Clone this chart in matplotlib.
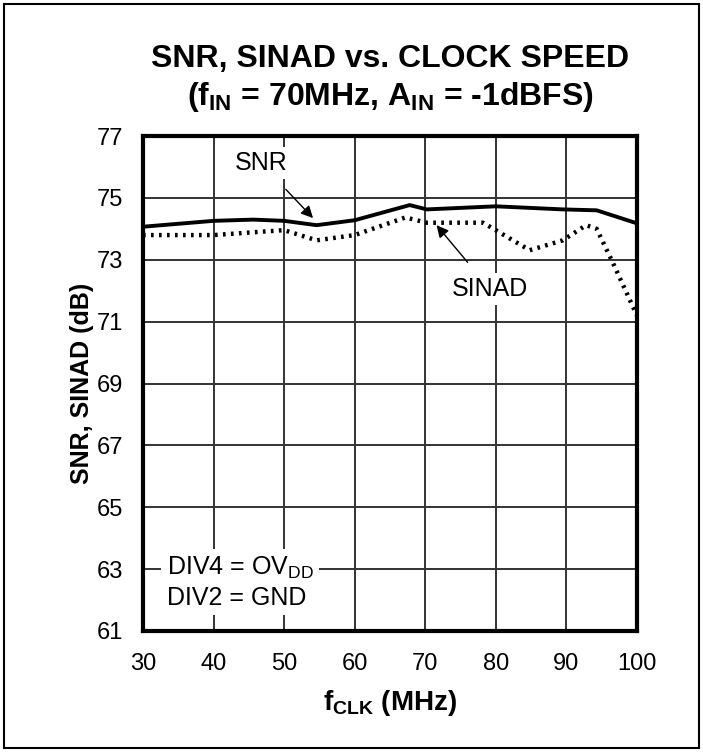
import matplotlib.pyplot as plt
from matplotlib.patches import Rectangle

plt.rcParams['font.family'] = ['Liberation Sans', 'DejaVu Sans']
plt.rcParams['mathtext.fontset'] = 'custom'
plt.rcParams['mathtext.rm'] = 'Liberation Sans'
plt.rcParams['mathtext.bf'] = 'Liberation Sans:bold'

# data
snr_x = [30, 40, 45.6, 50, 54.6, 60, 67.8, 70.2, 80, 89.5, 94.3, 100]
snr_y = [74.07, 74.26, 74.30, 74.26, 74.12, 74.28, 74.77, 74.63, 74.73, 74.63, 74.6, 74.18]

sinad_x = [30, 40, 50, 54.6, 60, 67.2, 70.2, 78.2, 84.8, 89.5, 92.8, 94.3, 96.6, 100]
sinad_y = [73.8, 73.8, 73.96, 73.63, 73.8, 74.37, 74.2, 74.2, 73.31, 73.63, 74.12, 74.0, 72.9, 71.2]

x_ticks = [30, 40, 50, 60, 70, 80, 90, 100]
y_ticks = [61, 63, 65, 67, 69, 71, 73, 75, 77]

fig = plt.figure(figsize=(7.03, 7.52), dpi=100)
ax = fig.add_axes([0.2034, 0.161, 0.7026, 0.658])

# outer border of the figure
fig.patches.append(Rectangle((0.006, 0.005), 0.988, 0.99, transform=fig.transFigure,
                             fill=False, edgecolor='black', linewidth=1.5))

ax.plot(snr_x, snr_y, color='black', linewidth=2.8, zorder=3)
ax.plot(sinad_x, sinad_y, color='black', linewidth=3.2, linestyle=(0, (0.6, 1.2)), zorder=3)

ax.set_xlim(30, 100)
ax.set_ylim(61, 77)
ax.set_xticks(x_ticks)
ax.set_yticks(y_ticks)
ax.grid(True, color='#333333', linewidth=1.4)
ax.set_axisbelow(True)
ax.tick_params(length=0, labelsize=17)
ax.tick_params(axis='x', pad=16)
ax.tick_params(axis='y', pad=14)
for s in ax.spines.values():
    s.set_linewidth(3)

ax.set_ylabel('SNR, SINAD (dB)', fontsize=18, fontweight='bold')
ax.set_xlabel(r'f$_{\mathbf{CLK}}$ (MHz)', fontsize=20, fontweight='bold')
ax.yaxis.set_label_coords(-0.1, 0.5)
ax.xaxis.set_label_coords(0.5, -0.115)

fig.text(0.555, 0.922, 'SNR, SINAD vs. CLOCK SPEED', ha='center', va='center',
         fontsize=23, fontweight='bold')
fig.text(0.555, 0.871, r'(f$_{\mathbf{IN}}$ = 70MHz, A$_{\mathbf{IN}}$ = -1dBFS)', ha='center',
         va='center', fontsize=23, fontweight='bold')

box = dict(facecolor='white', edgecolor='none', pad=3)
ax.annotate('SNR', xy=(54.1, 74.35), xytext=(46.7, 76.13), fontsize=18, ha='center',
            va='center', bbox=box,
            arrowprops=dict(arrowstyle='-|>', color='black', lw=1, shrinkA=10, shrinkB=0))
ax.annotate('SINAD', xy=(71.6, 74.12), xytext=(79.2, 72.05), fontsize=18, ha='center',
            va='center', bbox=box,
            arrowprops=dict(arrowstyle='-|>', color='black', lw=1, shrinkA=10, shrinkB=0))

ax.text(33.4, 63.05, r'DIV4 = OV$_{\mathrm{DD}}$', fontsize=18, ha='left', va='center',
        bbox=dict(facecolor='white', edgecolor='none', pad=4))
ax.text(33.4, 62.08, 'DIV2 = GND', fontsize=18, ha='left', va='center',
        bbox=dict(facecolor='white', edgecolor='none', pad=4))

fig.savefig('out.png', dpi=100)
